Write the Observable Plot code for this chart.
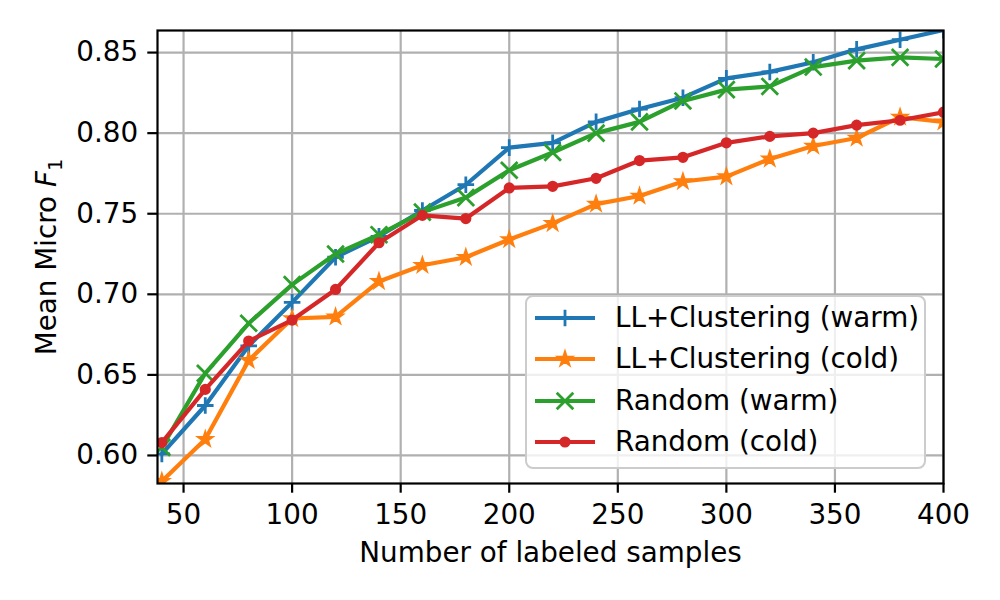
<!DOCTYPE html>
<html>
<head>
<meta charset="utf-8">
<script src="https://cdn.jsdelivr.net/npm/d3@7"></script>
<script src="https://cdn.jsdelivr.net/npm/@observablehq/plot@0.6"></script>
<style>
  body { margin: 0; background: #fff; font-family: "DejaVu Sans", sans-serif; }
  #wrap { position: relative; width: 1000px; height: 600px; }
  #legend { position: absolute; left: 525px; top: 295px; width: 401px; height: 174px;
            border: 2px solid #cccccc; border-radius: 8px; background: rgba(255,255,255,0.8); box-sizing: border-box; }
  .row { position: absolute; left: 0; height: 40px; width: 400px; }
  .row svg { position: absolute; left: 6px; top: 0; }
  .row span { position: absolute; left: 88px; top: 0; line-height: 40px; font-size: 27.8px; color: #000; white-space: nowrap; }
</style>
</head>
<body>
<div id="wrap"></div>
<script>
// ---- data ----
const samples = [40, 60, 80, 100, 120, 140, 160, 180, 200, 220, 240, 260, 280, 300, 320, 340, 360, 380, 400];
const llWarm  = [0.601, 0.631, 0.668, 0.695, 0.723, 0.736, 0.752, 0.768, 0.791, 0.794, 0.807, 0.815, 0.822, 0.834, 0.838, 0.844, 0.852, 0.858, 0.864];
const llCold  = [0.584, 0.610, 0.659, 0.685, 0.686, 0.708, 0.718, 0.723, 0.734, 0.744, 0.756, 0.761, 0.770, 0.773, 0.784, 0.792, 0.797, 0.810, 0.807];
const rndWarm = [0.605, 0.651, 0.682, 0.706, 0.725, 0.737, 0.751, 0.760, 0.777, 0.788, 0.800, 0.807, 0.820, 0.827, 0.829, 0.841, 0.845, 0.847, 0.846];
const rndCold = [0.608, 0.641, 0.671, 0.684, 0.703, 0.732, 0.749, 0.747, 0.766, 0.767, 0.772, 0.783, 0.785, 0.794, 0.798, 0.800, 0.805, 0.808, 0.813];
const seriesNames = ["LL+Clustering (warm)", "LL+Clustering (cold)", "Random (warm)", "Random (cold)"];
const xTicks = [50, 100, 150, 200, 250, 300, 350, 400];
const yTicks = [0.60, 0.65, 0.70, 0.75, 0.80, 0.85];

const styles = [
  {color: "#1f77b4", symbol: "plus",   r: 5.4, fill: "none",    sw: 2.8},
  {color: "#ff7f0e", symbol: "star",   r: 5.0, fill: "#ff7f0e", sw: 1.5},
  {color: "#2ca02c", symbol: "times",  r: 7.6, fill: "none",    sw: 2.8},
  {color: "#d62728", symbol: "circle", r: 4.2, fill: "#d62728", sw: 2.8}
];
const allValues = [llWarm, llCold, rndWarm, rndCold];

const seriesMarks = [];
allValues.forEach((vals, k) => {
  const data = samples.map((x, i) => ({x, y: vals[i], name: seriesNames[k]}));
  const st = styles[k];
  seriesMarks.push(Plot.line(data, {x: "x", y: "y", stroke: st.color, strokeWidth: 4.2, clip: true}));
  seriesMarks.push(Plot.dot(data, {x: "x", y: "y", symbol: () => st.symbol, r: st.r, stroke: st.color,
                                   fill: st.fill, strokeWidth: st.sw, clip: true}));
});

const chart = Plot.plot({
  width: 1000,
  height: 600,
  marginTop: 30,
  marginRight: 57,
  marginBottom: 117,
  marginLeft: 157,
  style: {fontFamily: "DejaVu Sans", fontSize: "27.8px", color: "#000", background: "transparent"},
  x: {domain: [38, 400]},
  y: {domain: [0.5826, 0.8637]},
  marks: [
    Plot.gridX(xTicks, {stroke: "#b0b0b0", strokeOpacity: 1, strokeWidth: 2.2}),
    Plot.gridY(yTicks, {stroke: "#b0b0b0", strokeOpacity: 1, strokeWidth: 2.2}),
    ...seriesMarks,
    Plot.frame({stroke: "#000", strokeWidth: 2.2}),
    Plot.axisX(xTicks, {tickSize: 9.7, tickPadding: 11, strokeWidth: 2.2, label: "Number of labeled samples",
                        labelAnchor: "center", labelArrow: "none", labelOffset: 78}),
    Plot.axisY(yTicks, {tickSize: 9.7, tickPadding: 9.7, strokeWidth: 2.2, tickFormat: d3.format(".2f"),
                        label: "Mean Micro F1", labelAnchor: "center", labelArrow: "none", labelOffset: 121})
  ]
});

// italic F with subscript 1 in the y label
chart.querySelectorAll("text").forEach(t => {
  if (t.textContent === "Mean Micro F1") {
    t.textContent = "Mean Micro ";
    const f = document.createElementNS("http://www.w3.org/2000/svg", "tspan");
    f.setAttribute("font-style", "italic");
    f.textContent = "F";
    t.appendChild(f);
    const s = document.createElementNS("http://www.w3.org/2000/svg", "tspan");
    s.setAttribute("font-size", "19.5px");
    s.setAttribute("dy", "0.3em");
    s.textContent = "1";
    t.appendChild(s);
  }
});

const wrap = document.getElementById("wrap");
wrap.appendChild(chart);

// legend
const legend = document.createElement("div");
legend.id = "legend";
const centers = [20.5, 62, 103.5, 145];
seriesNames.forEach((name, k) => {
  const st = styles[k];
  const row = document.createElement("div");
  row.className = "row";
  row.style.top = (centers[k] - 20) + "px";
  const svg = d3.create("svg").attr("width", 64).attr("height", 40);
  svg.append("line").attr("x1", 2).attr("x2", 62).attr("y1", 20).attr("y2", 20)
     .attr("stroke", st.color).attr("stroke-width", 4.2);
  const symMap = {plus: d3.symbolPlus, star: d3.symbolStar, times: d3.symbolTimes, circle: d3.symbolCircle};
  svg.append("path").attr("transform", "translate(32,20)")
     .attr("d", d3.symbol(symMap[st.symbol], Math.PI * st.r * st.r)())
     .attr("fill", st.fill).attr("stroke", st.color).attr("stroke-width", st.sw);
  row.appendChild(svg.node());
  const span = document.createElement("span");
  span.textContent = name;
  row.appendChild(span);
  legend.appendChild(row);
});
wrap.appendChild(legend);
</script>
</body>
</html>
